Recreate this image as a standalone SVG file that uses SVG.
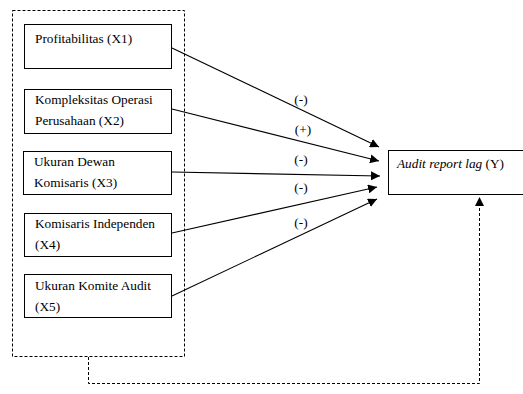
<svg xmlns="http://www.w3.org/2000/svg" width="523" height="394" viewBox="0 0 523 394">
<style>
.box{fill:#fff;stroke:#000;stroke-width:1}
.t{font-family:"Liberation Serif","Times New Roman",serif;font-size:13.3px;fill:#000}
.ln{stroke:#000;stroke-width:1.1;fill:none}
.ds{stroke:#000;stroke-width:1;fill:none;stroke-dasharray:3,2}
</style>
<defs>
<marker id="ah" viewBox="0 0 10 10" refX="10" refY="5" markerWidth="9" markerHeight="9" markerUnits="userSpaceOnUse" orient="auto">
<path d="M0,0 L10,5 L0,10 z" fill="#000"/>
</marker>
</defs>
<rect x="12.5" y="10.5" width="172" height="346" class="ds"/>
<g id="x1"><rect class="box" x="24.5" y="24.5" width="147" height="44"/><text class="t" x="35" y="43">Profitabilitas (X1)</text></g>
<g id="x2"><rect class="box" x="24.5" y="89.5" width="147" height="44"/><text class="t" x="35" y="104">Kompleksitas Operasi</text><text class="t" x="35" y="125">Perusahaan (X2)</text></g>
<g id="x3"><rect class="box" x="23.5" y="151.5" width="148" height="43"/><text class="t" x="34" y="166">Ukuran Dewan</text><text class="t" x="34" y="187">Komisaris (X3)</text></g>
<g id="x4"><rect class="box" x="24.5" y="213.5" width="147" height="43"/><text class="t" x="35" y="228">Komisaris Independen</text><text class="t" x="35" y="249">(X4)</text></g>
<g id="x5"><rect class="box" x="24.5" y="274.5" width="147" height="43"/><text class="t" x="35" y="290">Ukuran Komite Audit</text><text class="t" x="35" y="311">(X5)</text></g>
<g id="y"><rect class="box" x="388.5" y="150.5" width="140" height="44"/><text class="t" x="397" y="168"><tspan font-style="italic">Audit report lag</tspan> (Y)</text></g>
<g id="connectors">
<line class="ln" x1="172" y1="48" x2="379" y2="147" marker-end="url(#ah)"/>
<line class="ln" x1="172" y1="109" x2="379" y2="161" marker-end="url(#ah)"/>
<line class="ln" x1="172" y1="172" x2="380" y2="176" marker-end="url(#ah)"/>
<line class="ln" x1="172" y1="233" x2="377" y2="187" marker-end="url(#ah)"/>
<line class="ln" x1="172" y1="296" x2="377" y2="199" marker-end="url(#ah)"/>
<path class="ds" d="M88.5,357 V383.5 H479.5 V197" marker-end="url(#ah)"/>
<text class="t" x="301" y="104" text-anchor="middle">(-)</text>
<text class="t" x="303" y="134" text-anchor="middle">(+)</text>
<text class="t" x="301" y="164" text-anchor="middle">(-)</text>
<text class="t" x="301" y="192" text-anchor="middle">(-)</text>
<text class="t" x="301" y="227" text-anchor="middle">(-)</text>
</g>
</svg>
